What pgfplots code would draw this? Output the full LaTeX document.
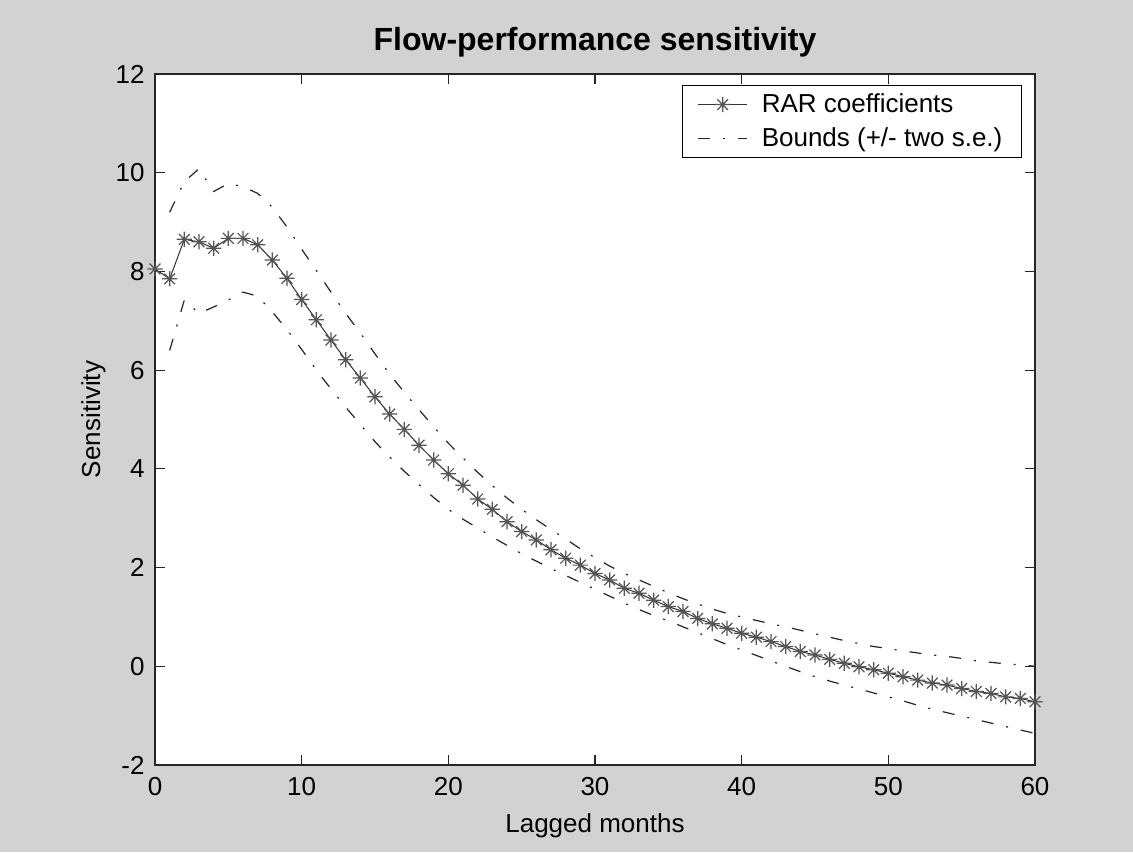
\documentclass[border=0pt]{standalone}
\usepackage{fontspec}
\setmainfont{Liberation Sans}
\usepackage{pgfplots}
\pgfplotsset{compat=1.18}
\usepackage{pgfplotstable}

\definecolor{figbg}{RGB}{210,210,210}
\definecolor{markgray}{RGB}{85,85,85}

% matlab style '*' marker: plus and cross together
\pgfdeclareplotmark{mstar}{%
  \pgfpathmoveto{\pgfqpoint{-\pgfplotmarksize}{0pt}}%
  \pgfpathlineto{\pgfqpoint{\pgfplotmarksize}{0pt}}%
  \pgfpathmoveto{\pgfqpoint{0pt}{-\pgfplotmarksize}}%
  \pgfpathlineto{\pgfqpoint{0pt}{\pgfplotmarksize}}%
  \pgfpathmoveto{\pgfqpoint{-0.707\pgfplotmarksize}{-0.707\pgfplotmarksize}}%
  \pgfpathlineto{\pgfqpoint{0.707\pgfplotmarksize}{0.707\pgfplotmarksize}}%
  \pgfpathmoveto{\pgfqpoint{-0.707\pgfplotmarksize}{0.707\pgfplotmarksize}}%
  \pgfpathlineto{\pgfqpoint{0.707\pgfplotmarksize}{-0.707\pgfplotmarksize}}%
  \pgfusepathqstroke}

\pgfplotstableread{
x y
0 8.05
1 7.85
2 8.65
3 8.60
4 8.47
5 8.67
6 8.67
7 8.54
8 8.23
9 7.86
10 7.43
11 7.02
12 6.61
13 6.21
14 5.84
15 5.46
16 5.11
17 4.80
18 4.48
19 4.18
20 3.90
21 3.67
22 3.39
23 3.18
24 2.93
25 2.73
26 2.56
27 2.36
28 2.19
29 2.05
30 1.88
31 1.75
32 1.58
33 1.48
34 1.34
35 1.21
36 1.11
37 0.97
38 0.86
39 0.77
40 0.67
41 0.59
42 0.50
43 0.40
44 0.30
45 0.23
46 0.14
47 0.06
48 -0.01
49 -0.07
50 -0.14
51 -0.21
52 -0.28
53 -0.34
54 -0.38
55 -0.45
56 -0.51
57 -0.55
58 -0.62
59 -0.65
60 -0.72
}\coef

\pgfplotstableread{
x up lo
1 9.20 6.40
2 9.82 7.42
3 10.08 7.15
4 9.62 7.28
5 9.78 7.42
6 9.72 7.58
7 9.58 7.50
8 9.30 7.18
9 8.90 6.82
10 8.45 6.42
11 8.02 6.00
12 7.58 5.62
13 7.15 5.25
14 6.75 4.90
15 6.33 4.55
16 5.92 4.24
17 5.55 3.95
18 5.20 3.68
19 4.85 3.42
20 4.52 3.18
21 4.22 2.98
22 3.93 2.80
23 3.66 2.62
24 3.41 2.45
25 3.18 2.28
26 2.97 2.13
27 2.77 1.98
28 2.58 1.84
29 2.38 1.70
30 2.20 1.56
31 2.03 1.42
32 1.88 1.28
33 1.75 1.15
34 1.62 1.03
35 1.49 0.92
36 1.37 0.80
37 1.26 0.68
38 1.16 0.56
39 1.07 0.44
40 1.00 0.33
41 0.93 0.22
42 0.86 0.11
43 0.80 0.00
44 0.73 -0.11
45 0.66 -0.21
46 0.59 -0.30
47 0.52 -0.38
48 0.46 -0.46
49 0.40 -0.54
50 0.36 -0.62
51 0.31 -0.70
52 0.27 -0.79
53 0.23 -0.87
54 0.20 -0.94
55 0.16 -1.01
56 0.11 -1.08
57 0.08 -1.15
58 0.05 -1.22
59 0.03 -1.29
60 0.00 -1.36
}\bounds

\begin{document}
\begin{tikzpicture}
% grey figure background, 1px = 0.5pt
\fill[figbg] (-77.5pt,-43.5pt) rectangle (489pt,382.5pt);
\begin{axis}[
    at={(0,0)}, anchor=south west,
    scale only axis,
    width=440pt, height=345.5pt,
    xmin=0, xmax=60, ymin=-2, ymax=12,
    xtick={0,10,...,60}, ytick={-2,0,...,12},
    axis background/.style={fill=white},
    axis line style={line width=0.6pt, black!85},
    tick style={line width=0.6pt, black!85},
    tick align=inside,
    major tick length=5pt,
    xtick pos=both, ytick pos=both,
    font=\fontsize{13}{15.6}\selectfont,
    /pgf/number format/assume math mode=true,
    xticklabel style={anchor=north, inner sep=0pt, yshift=-6pt},
    yticklabel style={anchor=east, inner sep=0pt, xshift=-5pt},
    every axis title shift=0pt,
    title={Flow-performance sensitivity},
    title style={at={(axis description cs:0.5,1.0347)}, anchor=base,
      font=\bfseries\fontsize{16}{19}\selectfont},
    xlabel={Lagged months},
    xlabel style={at={(axis description cs:0.5,-0.097)}, anchor=base},
    ylabel={Sensitivity},
    ylabel style={at={(axis description cs:-0.0625,0.5)}, anchor=base},
    legend style={at={(axis description cs:0.9852,0.984)}, anchor=north east,
      draw=black, line width=0.6pt, fill=white,
      font=\fontsize{13}{15.6}\selectfont,
      row sep=2pt, column sep=5pt, inner xsep=7.5pt, inner ysep=2pt},
    legend cell align=left,
    legend image code/.code={
      \draw[#1] (0pt,0pt) -- (24.5pt,0pt);
      \draw[#1, mark repeat=1, mark phase=1] plot coordinates {(12.25pt,0pt)};},
]
\addplot[black!80, line width=0.5pt, mark=mstar, mark size=3.8pt,
  mark options={draw=markgray, line width=0.6pt, solid}]
  table[x=x, y=y] {\coef};
\addlegendentry{RAR coefficients}
\addplot[black!85, line width=0.6pt,
  dash pattern=on 6pt off 6.5pt on 1pt off 6.5pt]
  table[x=x, y=up] {\bounds};
\addlegendentry{Bounds (+/- two s.e.)\hspace{3pt}}
\addplot[black!85, line width=0.6pt,
  dash pattern=on 6pt off 6.5pt on 1pt off 6.5pt, forget plot]
  table[x=x, y=lo] {\bounds};
\end{axis}
\end{tikzpicture}
\end{document}
